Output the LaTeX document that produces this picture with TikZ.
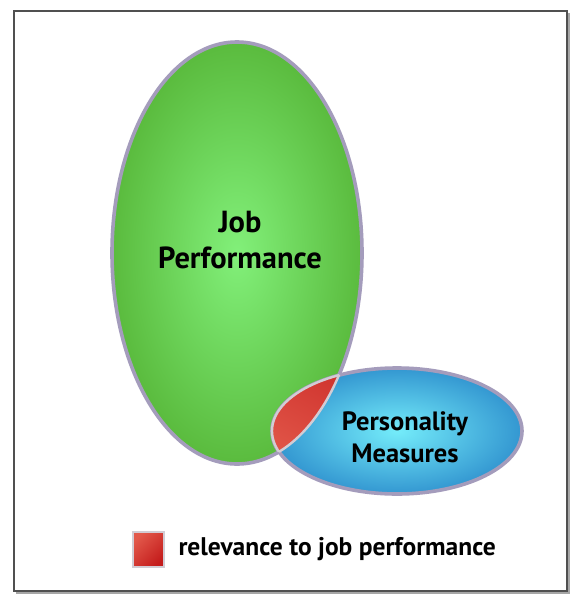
\documentclass[tikz,border=0pt]{standalone}
\usepackage{fontspec}
\setmainfont{PT Sans}
\definecolor{rimcol}{HTML}{A49CBC}
\definecolor{lensrim}{HTML}{D2CCD4}
\definecolor{gin}{HTML}{82F07A}
\definecolor{gout}{HTML}{4CA828}
\definecolor{bin}{HTML}{74ECFA}
\definecolor{bout}{HTML}{1C78C2}
\definecolor{rlight}{HTML}{E2584A}
\definecolor{rdark}{HTML}{C41C1C}
\definecolor{framecol}{HTML}{505050}
\pgfdeclareradialshading{greenrad}{\pgfpoint{0bp}{0bp}}{color(0bp)=(gin); color(34bp)=(gout); color(50bp)=(gout)}
\pgfdeclareradialshading{bluerad}{\pgfpoint{0bp}{0bp}}{color(0bp)=(bin); color(34bp)=(bout); color(50bp)=(bout)}
\begin{document}
\begin{tikzpicture}[x=1pt,y=-1pt,
  rim/.style={draw=rimcol,line width=3.6pt},
  lens/.style={draw=lensrim,line width=2.4pt},
  big/.style={font=\bfseries\fontsize{30.5}{36}\selectfont,align=center,text=black},
  mid/.style={font=\bfseries\fontsize{26.5}{32}\selectfont,align=center,text=black},
  legendtxt/.style={font=\bfseries\fontsize{25.5}{30}\selectfont,text=black,anchor=west}]
\useasboundingbox (0,0) rectangle (573,595);
% frame with shadow
\fill[gray!70] (16,13) rectangle (570,594);
\draw[framecol,line width=1.4pt,fill=white] (14,11) rectangle (567,591);
% green ellipse
\shade[shading=greenrad] (237,253) ellipse [x radius=125pt,y radius=211pt];
\draw[rim] (237,253) ellipse [x radius=125pt,y radius=211pt];
% blue ellipse
\shade[shading=bluerad] (397,431) ellipse [x radius=125pt,y radius=63pt];
\draw[rim] (397,431) ellipse [x radius=125pt,y radius=63pt];
% intersection
\begin{scope}
  \clip (237,253) ellipse [x radius=125pt,y radius=211pt];
  \shade[top color=rdark,bottom color=rlight,shading angle=-30] (397,431) ellipse [x radius=125pt,y radius=63pt];
  \draw[lens] (397,431) ellipse [x radius=125pt,y radius=63pt];
\end{scope}
\begin{scope}
  \clip (397,431) ellipse [x radius=125pt,y radius=63pt];
  \draw[lens] (237,253) ellipse [x radius=125pt,y radius=211pt];
\end{scope}
% labels
\node[big] (job) at (240,240) {Job\\Performance};
\node[mid] (pers) at (405,437) {Personality\\Measures};
% legend
\shade[top color=rlight,bottom color=rdark,shading angle=45] (133,532) rectangle (164,567);
\draw[lensrim,line width=1.6pt] (133,532) rectangle (164,567);
\node[legendtxt] (leg) at (175,549) {relevance to job performance};
\end{tikzpicture}
\end{document}
